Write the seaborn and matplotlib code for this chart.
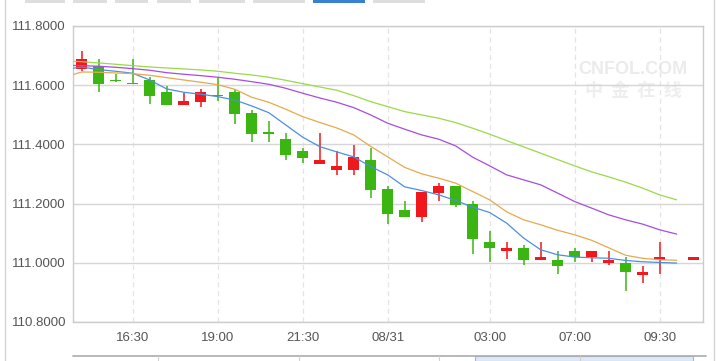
import numpy as np
import pandas as pd
import seaborn as sns
import matplotlib.pyplot as plt
from matplotlib.patches import Rectangle
from matplotlib.lines import Line2D

# x axis labels (30 min candles, slot index)
tick_pos = [3, 8, 13, 18, 24, 29, 34]
tick_labels = ['16:30', '19:00', '21:30', '08/31', '03:00', '07:00', '09:30']
y_ticks = [110.8, 111.0, 111.2, 111.4, 111.6, 111.8]

nan = np.nan
opens = [111.6549, 111.6660, 111.6170, 111.6070, 111.6177, 111.5762, 111.5344, 111.5445, 111.5665, 111.5772,
         111.5054, 111.4382, 111.4176, 111.3781, 111.3353, 111.3150, 111.3150, 111.3477, 111.2499, 111.1790,
         111.1564, 111.2374, 111.2600, 111.1992, 111.0710, 111.0383, 111.0507, 111.0079, 111.0102, 111.0406,
         111.0194, 110.9978, 111.0001, 110.9573, 111.0079, nan, 111.0079]
closes = [111.6886, 111.6053, 111.6160, 111.6060, 111.5648, 111.5344, 111.5469, 111.5772, 111.5655, 111.5040,
          111.4365, 111.4376, 111.3656, 111.3555, 111.3477, 111.3275, 111.3579, 111.2475, 111.1665, 111.1564,
          111.2397, 111.2600, 111.1969, 111.0788, 111.0484, 111.0507, 111.0079, 111.0204, 110.9876, 111.0194,
          111.0406, 111.0092, 110.9674, 110.9697, 111.0204, nan, 111.0204]
highs = [111.7166, 111.6886, 111.6380, 111.6886, 111.6269, 111.5965, 111.5749, 111.5874, 111.6269, 111.5864,
         111.5165, 111.4794, 111.4379, 111.3893, 111.4379, 111.3781, 111.3984, 111.3872, 111.2600, 111.2094,
         111.2397, 111.2691, 111.2600, 111.2094, 111.1081, 111.0710, 111.0609, 111.0710, 111.0406, 111.0507,
         111.0406, 111.0406, 111.0204, 110.9900, 111.0710, nan, 111.0204]
lows = [111.6491, 111.5783, 111.6100, 111.6060, 111.5378, 111.5344, 111.5344, 111.5276, 111.5479, 111.4692,
        111.4095, 111.4095, 111.3488, 111.3376, 111.3353, 111.2981, 111.2981, 111.2195, 111.1294, 111.1564,
        111.1395, 111.2104, 111.1901, 111.0305, 111.0011, 111.0113, 110.9910, 111.0079, 110.9620, 111.0011,
        111.0011, 110.9910, 110.9033, 110.9303, 110.9606, nan, 111.0079]

# moving averages, first point sits one slot left of the first candle
ma_blue = [111.6532, 111.6616, 111.6525, 111.6471, 111.6404, 111.6177, 111.5874, 111.5762, 111.5695, 111.5614,
           111.5502, 111.5300, 111.5074, 111.4659, 111.4244, 111.3926, 111.3747, 111.3579, 111.3251, 111.2971,
           111.2566, 111.2441, 111.2296, 111.2104, 111.1881, 111.1699, 111.1341, 111.0835, 111.0440, 111.0271,
           111.0194, 111.0170, 111.0153, 111.0079, 111.0035, 111.0011, 110.9991]
ma_orange = [111.6279, 111.6447, 111.6437, 111.6414, 111.6390, 111.6336, 111.6255, 111.6177, 111.6100, 111.6019,
             111.5864, 111.5594, 111.5425, 111.5189, 111.4939, 111.4743, 111.4557, 111.4321, 111.3933, 111.3579,
             111.3224, 111.3005, 111.2860, 111.2691, 111.2408, 111.2127, 111.1722, 111.1452, 111.1284, 111.1098,
             111.0946, 111.0761, 111.0507, 111.0254, 111.0153, 111.0102, 111.0086]
ma_purple = [111.6674, 111.6660, 111.6640, 111.6606, 111.6559, 111.6505, 111.6424, 111.6370, 111.6323, 111.6269,
             111.6201, 111.6120, 111.6032, 111.5897, 111.5729, 111.5570, 111.5425, 111.5243, 111.4996, 111.4716,
             111.4514, 111.4321, 111.4176, 111.3950, 111.3569, 111.3275, 111.2971, 111.2802, 111.2634, 111.2354,
             111.2070, 111.1847, 111.1621, 111.1452, 111.1307, 111.1115, 111.0970]
ma_green = [111.6819, 111.6795, 111.6751, 111.6707, 111.6660, 111.6616, 111.6582, 111.6549, 111.6515, 111.6471,
            111.6404, 111.6346, 111.6269, 111.6167, 111.6053, 111.5941, 111.5830, 111.5648, 111.5445, 111.5276,
            111.5108, 111.4996, 111.4885, 111.4736, 111.4547, 111.4345, 111.4129, 111.3916, 111.3704, 111.3488,
            111.3275, 111.3072, 111.2904, 111.2725, 111.2522, 111.2296, 111.2127]

UP = '#f0181c'
DOWN = '#3bb512'

df = pd.DataFrame({'open': opens, 'high': highs, 'low': lows, 'close': closes})
df['x'] = np.arange(len(df))
df = df.dropna()
df['color'] = np.where(df['close'] > df['open'], UP, DOWN)
body = (df['close'] - df['open']).abs()
h = np.maximum(body, 0.005)
df['bottom'] = np.minimum(df['open'], df['close']) - (h - body) / 2
df['h'] = h

ma = pd.DataFrame({'x': np.arange(-1, len(ma_blue) - 1), 'blue': ma_blue, 'orange': ma_orange,
                   'purple': ma_purple, 'green': ma_green})

sns.set_theme(style='white')
plt.rcParams['font.family'] = ['Liberation Sans', 'DejaVu Sans']

W, H = 718, 361
fig = plt.figure(figsize=(W / 100, H / 100), dpi=100)
ax = fig.add_axes([73 / W, 1 - 322 / H, (703 - 73) / W, (322 - 26) / H])

ax.vlines(df['x'], df['low'], df['high'], colors=df['color'], lw=1.1, zorder=2)
ax.bar(df['x'], df['h'], bottom=df['bottom'], width=0.65, color=df['color'], linewidth=0, zorder=2.1)

for col, c in [('blue', '#4a90e2'), ('orange', '#e6a94e'), ('purple', '#a64de0'), ('green', '#9ad94a')]:
    sns.lineplot(data=ma, x='x', y=col, color=c, lw=0.9, ax=ax, zorder=3, errorbar=None)

ax.set_xlim(-0.51, 36.55)
ax.set_ylim(110.8, 111.8)
ax.set_yticks(y_ticks)
ax.set_yticklabels([f'{v:.4f}' for v in y_ticks])
ax.set_xticks(tick_pos)
ax.set_xticklabels(tick_labels)
ax.set_xlabel('')
ax.set_ylabel('')
ax.tick_params(axis='y', length=0, pad=5, labelsize=9.5, labelcolor='#555555')
ax.tick_params(axis='x', length=0, pad=7, labelsize=9.5, labelcolor='#555555')
ax.yaxis.grid(True, color='#d6d6d6', lw=1, zorder=0)
ax.xaxis.grid(True, color='#e4e4e4', lw=0.9, ls=(0, (4, 3)), zorder=0)
ax.set_axisbelow(True)
for s in ax.spines.values():
    s.set_color('#cccccc')
    s.set_linewidth(1)

# watermark
ax.text(633 / W, 1 - 69 / H, 'CNFOL.COM', transform=fig.transFigure, ha='center', va='center',
        fontsize=13, fontweight='bold', color='#ebebeb', zorder=0.5)
ax.text(633 / W, 1 - 91 / H, '中  金  在  线', transform=fig.transFigure, ha='center', va='center',
        fontsize=13, fontweight='bold', color='#eeeeee', zorder=0.5,
        family=['Noto Sans CJK SC', 'DejaVu Sans'])

# top tabs
tabs = [(25, 65), (73, 107), (115, 148), (157, 191), (199, 245), (253, 305), (313, 365), (373, 425)]
for i, (a, b) in enumerate(tabs):
    fig.add_artist(Rectangle((a / W, 1 - 3 / H), (b - a) / W, 3 / H, transform=fig.transFigure,
                             color='#3a80d2' if i == 6 else '#dedede', lw=0))

# frame lines and navigator at the bottom
fig.add_artist(Line2D([4.5 / W] * 2, [0, 1], transform=fig.transFigure, color='#d2d2d2', lw=1))
fig.add_artist(Line2D([713.5 / W] * 2, [0, 1], transform=fig.transFigure, color='#d2d2d2', lw=1))
fig.add_artist(Rectangle((474.6 / W, 0), (692.6 - 474.6) / W, 1 - 356 / H, transform=fig.transFigure,
                         facecolor='#dde9f8', edgecolor='#aab6c8', lw=0.8))
fig.add_artist(Line2D([73 / W, 706 / W], [1 - 356 / H] * 2, transform=fig.transFigure, color='#a9abb6', lw=1.2))
for xp in [157.6, 298.6, 438.7, 579.7]:
    fig.add_artist(Line2D([xp / W] * 2, [0, 1 - 356 / H], transform=fig.transFigure, color='#d0d0d0', lw=0.8))

fig.savefig('out.png', dpi=100)
